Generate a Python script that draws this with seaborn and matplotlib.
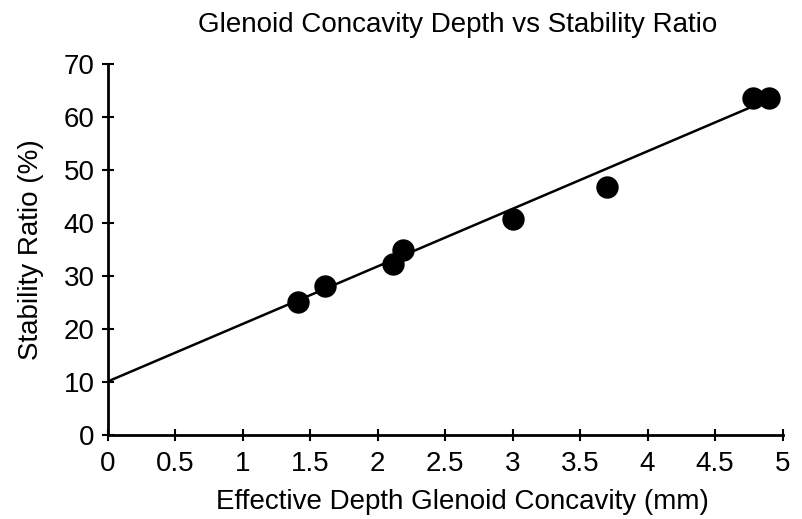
import numpy as np
import pandas as pd
import seaborn as sns
import matplotlib
matplotlib.use("Agg")
import matplotlib.pyplot as plt

# values
depth = [1.41, 1.61, 2.11, 2.19, 3.0, 3.70, 4.78, 4.90]
stability = [25.0, 28.0, 32.3, 34.8, 40.8, 46.8, 63.6, 63.6]
fit_depth = [0.0, 4.8]
fit_stability = [10.1, 62.2]
x_ticks = ["0", "0.5", "1", "1.5", "2", "2.5", "3", "3.5", "4", "4.5", "5"]

df = pd.DataFrame({"depth": depth, "stability": stability})
fit = pd.DataFrame({"depth": fit_depth, "stability": fit_stability})

sns.set_style("ticks")
plt.rcParams["font.family"] = ["Liberation Sans", "DejaVu Sans"]
plt.rcParams["text.color"] = "black"
plt.rcParams["axes.labelcolor"] = "black"

fig = plt.figure(figsize=(8.03, 5.19), dpi=100)
ax = fig.add_axes([0.1345, 0.162, 0.840, 0.715])

sns.lineplot(data=fit, x="depth", y="stability", color="black", lw=1.8, ax=ax)
sns.scatterplot(data=df, x="depth", y="stability", color="black", s=260,
                edgecolor="black", linewidth=0, ax=ax, zorder=3, clip_on=False)

ax.set_xlim(0, 5)
ax.set_ylim(0, 70)
ax.set_xticks(np.arange(0, 5.01, 0.5))
ax.set_xticklabels(x_ticks)
ax.set_yticks(range(0, 71, 10))
ax.tick_params(axis="x", direction="inout", length=9, width=1.5, labelsize=20,
               colors="black", pad=7)
ax.tick_params(axis="y", direction="inout", length=9, width=1.5, labelsize=20,
               colors="black", pad=5)
for s in ["left", "bottom"]:
    ax.spines[s].set_linewidth(2)
    ax.spines[s].set_color("black")
sns.despine(ax=ax)

ax.set_xlabel("Effective Depth Glenoid Concavity (mm)", fontsize=20)
ax.xaxis.set_label_coords(0.525, -0.145)
ax.set_ylabel("Stability Ratio (%)", fontsize=20, labelpad=14)
fig.text(0.57, 0.952, "Glenoid Concavity Depth vs Stability Ratio", ha="center",
         va="center", fontsize=20)

fig.savefig("out.png", dpi=100)
